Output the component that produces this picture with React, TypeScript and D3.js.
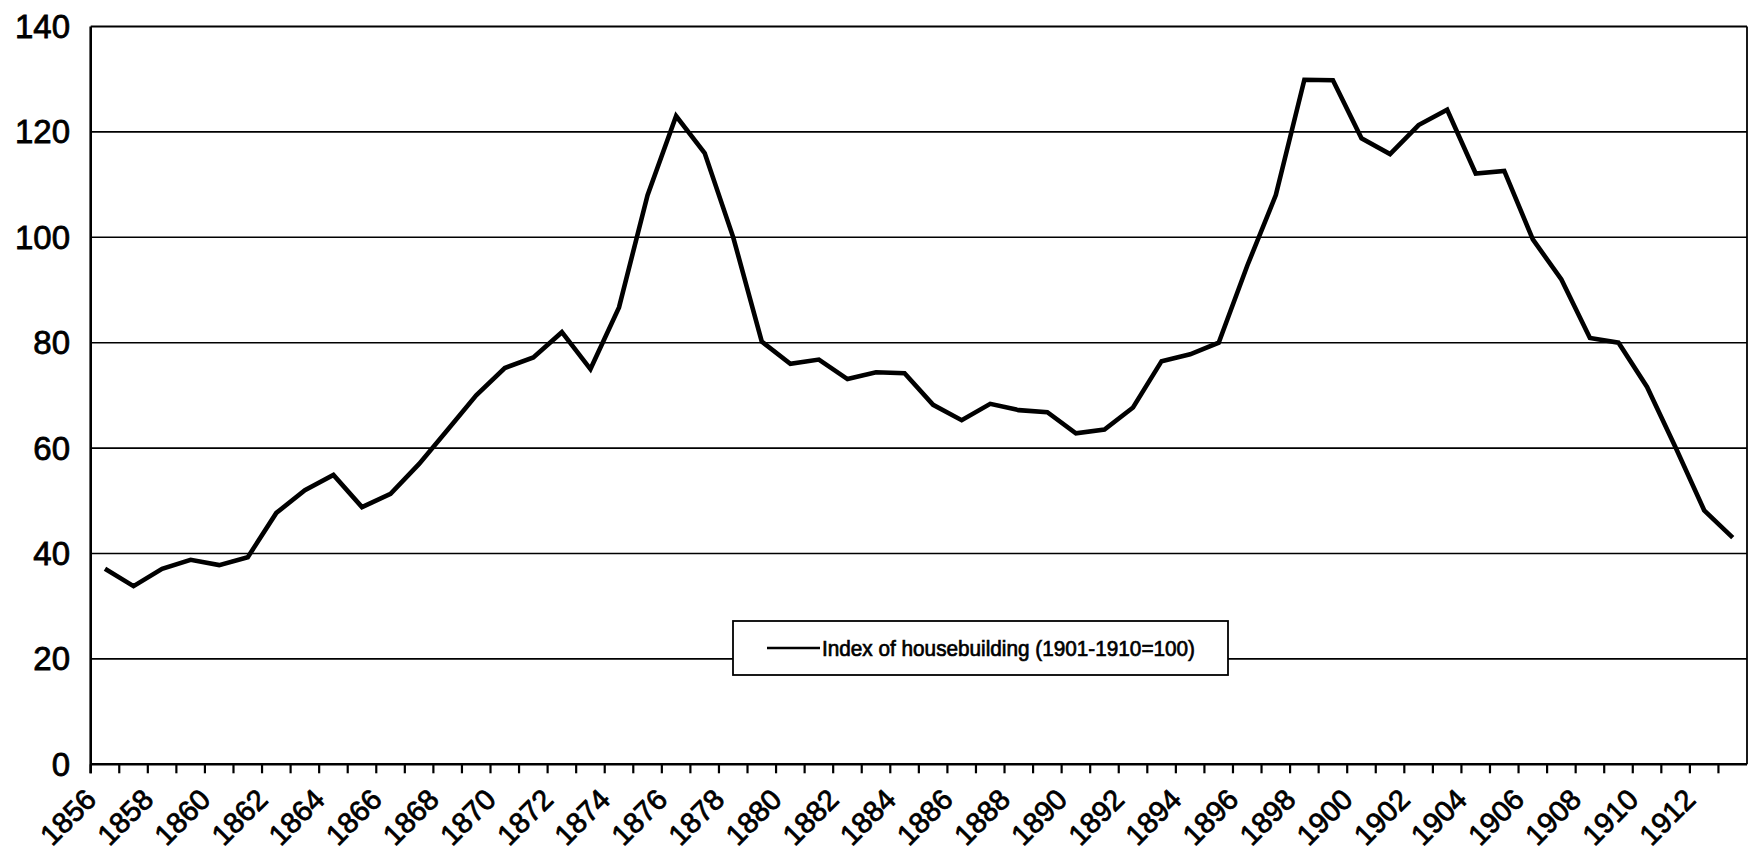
import React from "react";
import * as d3 from "d3";

// Years on the category axis
const years: number[] = [
  1856, 1857, 1858, 1859, 1860, 1861, 1862, 1863, 1864, 1865,
  1866, 1867, 1868, 1869, 1870, 1871, 1872, 1873, 1874, 1875,
  1876, 1877, 1878, 1879, 1880, 1881, 1882, 1883, 1884, 1885,
  1886, 1887, 1888, 1889, 1890, 1891, 1892, 1893, 1894, 1895,
  1896, 1897, 1898, 1899, 1900, 1901, 1902, 1903, 1904, 1905,
  1906, 1907, 1908, 1909, 1910, 1911, 1912, 1913,
];

// Index of housebuilding (1901-1910=100)
const housebuildingIndex: number[] = [
  37.1, 33.8, 37.1, 38.8, 37.8, 39.3, 47.7, 52.0, 54.9, 48.8,
  51.3, 57.0, 63.5, 70.0, 75.2, 77.2, 82.0, 75.0, 86.7, 108.0,
  123.0, 116.0, 100.0, 80.2, 76.0, 76.8, 73.1, 74.4, 74.2, 68.2,
  65.3, 68.4, 67.2, 66.8, 62.8, 63.5, 67.7, 76.5, 77.8, 80.0,
  94.6, 108.0, 129.9, 129.8, 118.8, 115.8, 121.3, 124.2, 112.1, 112.6,
  99.6, 92.0, 80.9, 80.0, 71.6, 60.1, 48.2, 43.0,
];

const yTicks: number[] = [0, 20, 40, 60, 80, 100, 120, 140];
const seriesName = "Index of housebuilding (1901-1910=100)";

const W = 1749;
const H = 867;
const plot = { left: 90.7, right: 1747, top: 26.5, bottom: 764.3 };
const FONT = "'Liberation Sans', Arial, Helvetica, sans-serif";

// heavy print-style text: fill plus a thin matching outline
const inked = {
  fill: "#000",
  stroke: "#000",
  paintOrder: "stroke" as const,
};

export default function App() {
  const x = d3
    .scaleBand<number>()
    .domain(years)
    .range([plot.left, plot.right])
    .paddingInner(0)
    .paddingOuter(0);
  const y = d3.scaleLinear().domain([0, 140]).range([plot.bottom, plot.top]);
  const bw = x.bandwidth();
  const cx = (yr: number) => (x(yr) as number) + bw / 2;

  const pts: [number, number][] = years.map((yr, i) => [cx(yr), y(housebuildingIndex[i])]);
  const path = d3.line().curve(d3.curveLinear)(pts) || "";

  const labelYears = years.filter((_, i) => i % 2 === 0);

  return (
    <svg
      width={W}
      height={H}
      style={{ position: "absolute", left: 0, top: 0, background: "#fff" }}
      fontFamily={FONT}
    >
      <rect x={0} y={0} width={W} height={H} fill="#fff" />

      {/* horizontal gridlines */}
      {yTicks
        .filter((t) => t > 0 && t < 140)
        .map((t) => (
          <line key={t} x1={plot.left} x2={plot.right} y1={y(t)} y2={y(t)} stroke="#000" strokeWidth={1.6} />
        ))}

      {/* plot frame: top and right edges */}
      <line x1={plot.left} x2={plot.right} y1={y(140)} y2={y(140)} stroke="#000" strokeWidth={1.8} />
      <line x1={plot.right} x2={plot.right} y1={plot.top} y2={plot.bottom} stroke="#000" strokeWidth={1.8} />

      {/* axes */}
      <line x1={plot.left} x2={plot.left} y1={plot.top} y2={plot.bottom + 9} stroke="#000" strokeWidth={2.6} />
      <line x1={plot.left} x2={plot.right} y1={plot.bottom} y2={plot.bottom} stroke="#000" strokeWidth={2.6} />

      {/* category tick marks between years */}
      {years.map((yr) => (
        <line
          key={`t${yr}`}
          x1={x(yr) as number}
          x2={x(yr) as number}
          y1={plot.bottom}
          y2={plot.bottom + 9}
          stroke="#000"
          strokeWidth={2.2}
        />
      ))}

      {/* y labels */}
      {yTicks.map((t) => (
        <text
          key={`yl${t}`}
          x={70}
          y={y(t)}
          textAnchor="end"
          dominantBaseline="central"
          fontSize={33}
          strokeWidth={0.8}
          {...inked}
        >
          {t}
        </text>
      ))}

      {/* x labels, every second year */}
      {labelYears.map((yr) => (
        <text
          key={`xl${yr}`}
          transform={`translate(${cx(yr) - 7},${plot.bottom + 37}) rotate(-45)`}
          textAnchor="end"
          fontSize={29}
          strokeWidth={0.8}
          {...inked}
        >
          {yr}
        </text>
      ))}

      {/* series */}
      <path d={path} fill="none" stroke="#000" strokeWidth={4.6} strokeLinejoin="miter" strokeLinecap="butt" />

      {/* legend */}
      <g>
        <rect x={733} y={621} width={495} height={54} fill="#fff" stroke="#000" strokeWidth={1.8} />
        <line x1={767} x2={820} y1={648} y2={648} stroke="#000" strokeWidth={2.4} />
        <text
          x={822}
          y={648}
          dominantBaseline="central"
          fontSize={22}
          textLength={373}
          lengthAdjust="spacingAndGlyphs"
          strokeWidth={0.7}
          {...inked}
        >
          {seriesName}
        </text>
      </g>
    </svg>
  );
}
